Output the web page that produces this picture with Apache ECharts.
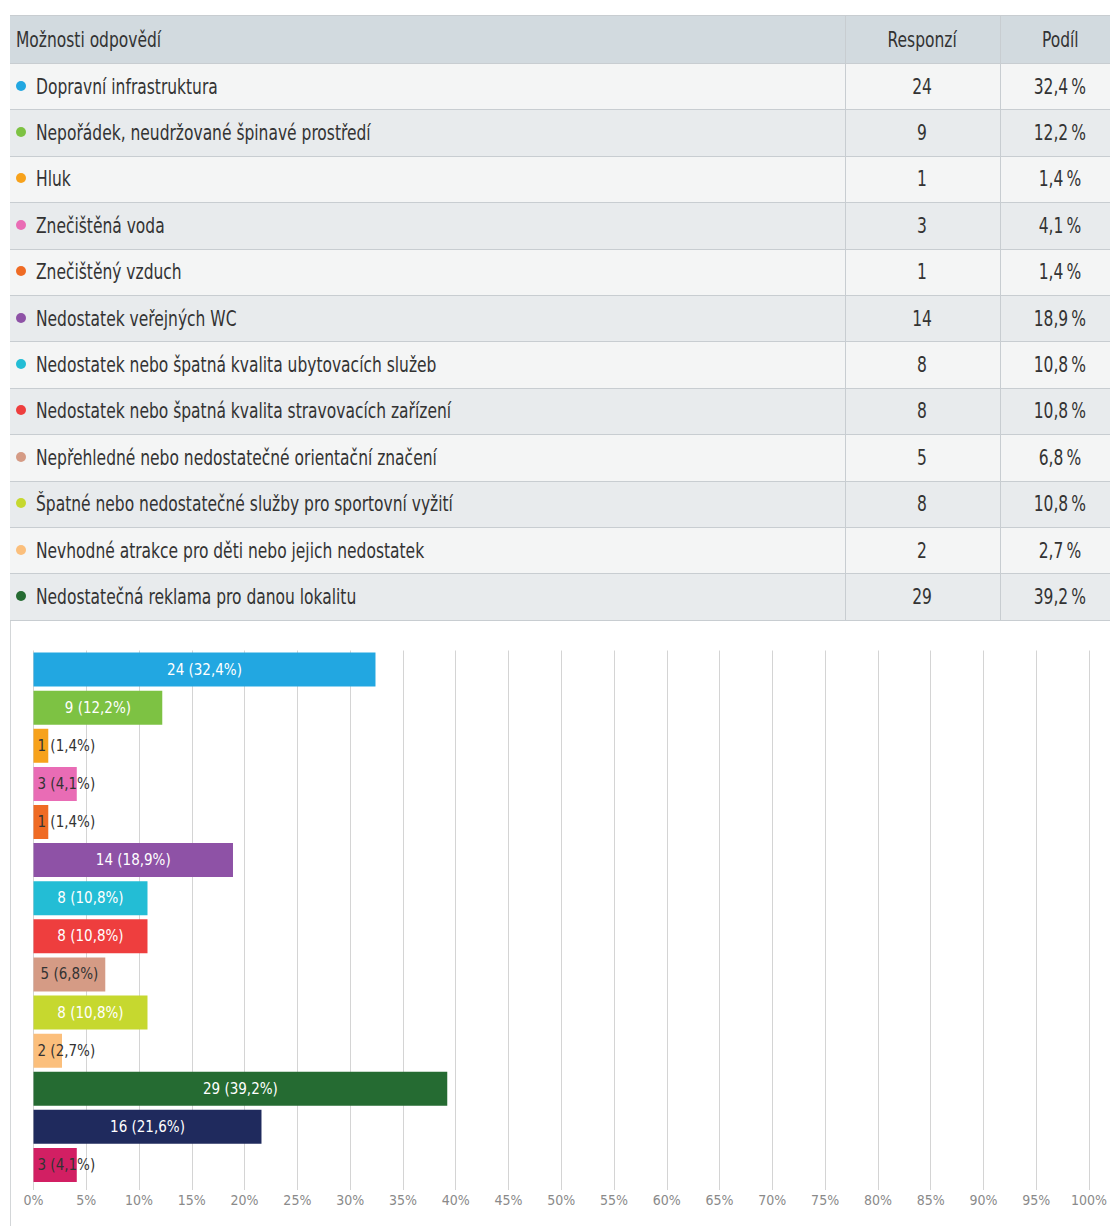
<!DOCTYPE html>
<html>
<head>
<meta charset="utf-8">
<script src="https://cdn.jsdelivr.net/npm/echarts@6/dist/echarts.min.js"></script>
<style>
  html, body { margin:0; padding:0; background:#fff; width:1110px; height:1226px; overflow:hidden; }
  body { position:relative; font-family:"DejaVu Sans Condensed","Liberation Sans Narrow","Roboto",sans-serif; color:#333; }
  #frame { position:absolute; left:10px; top:15px; width:1110px; height:1211px; border-left:1px solid #d3d6d8; }
  table { position:absolute; left:10px; top:15px; width:1110px; border-collapse:collapse; table-layout:fixed; font-size:21px; }
  th, td { border-top:1px solid #c8cdd1; border-bottom:1px solid #c8cdd1; padding:0; font-weight:normal; white-space:nowrap; overflow:visible; }
  th { background:#d2dadf; height:47px; }
  td { height:45.4px; }
  tr.l td { background:#f4f5f5; }
  tr.d td { background:#e8ebed; }
  .c1 { text-align:left; padding-left:6px; }
  .c2, .c3 { text-align:center; border-left:1px solid #c8cdd1; }
  .t { display:inline-block; transform:scaleX(0.82); transform-origin:left center; }
  .c2 .t, .c3 .t { transform-origin:center center; }
  .dot { display:inline-block; width:10px; height:10px; border-radius:50%; margin-right:10px; vertical-align:middle; position:relative; top:-2px; }
  #chart { position:absolute; left:0; top:620px; width:1110px; height:606px; }
</style>
</head>
<body>
<div id="frame"></div>
<table id="tbl">
  <colgroup><col style="width:835px"><col style="width:155px"><col style="width:120px"></colgroup>
  <thead><tr><th class="c1" id="h1"></th><th class="c2" id="h2"></th><th class="c3" id="h3"></th></tr></thead>
  <tbody id="tb"></tbody>
</table>
<div id="chart"></div>
<script>
// ---- data ----
const headers = ["Možnosti odpovědí", "Responzí", "Podíl"];
const categories = [
  "Dopravní infrastruktura",
  "Nepořádek, neudržované špinavé prostředí",
  "Hluk",
  "Znečištěná voda",
  "Znečištěný vzduch",
  "Nedostatek veřejných WC",
  "Nedostatek nebo špatná kvalita ubytovacích služeb",
  "Nedostatek nebo špatná kvalita stravovacích zařízení",
  "Nepřehledné nebo nedostatečné orientační značení",
  "Špatné nebo nedostatečné služby pro sportovní vyžití",
  "Nevhodné atrakce pro děti nebo jejich nedostatek",
  "Nedostatečná reklama pro danou lokalitu",
  "Kategorie 13",
  "Kategorie 14"
];
const counts = [24, 9, 1, 3, 1, 14, 8, 8, 5, 8, 2, 29, 16, 3];
const shares = [32.4, 12.2, 1.4, 4.1, 1.4, 18.9, 10.8, 10.8, 6.8, 10.8, 2.7, 39.2, 21.6, 4.1];
const tableRows = 12; // rows visible in the table
const xTicks = [0, 5, 10, 15, 20, 25, 30, 35, 40, 45, 50, 55, 60, 65, 70, 75, 80, 85, 90, 95, 100];

// ---- styles ----
const colors = ["#22a7e1", "#7dc243", "#f7a21b", "#e96cb5", "#ef6b24", "#8e52a6", "#23bdd5", "#ee3e3e",
                "#d59b85", "#c6d82f", "#fbbf7c", "#256b32", "#1f2a5d", "#d21f63"];
const labelColors = ["#fff", "#fff", "#333", "#333", "#333", "#fff", "#fff", "#fff", "#333", "#fff", "#333", "#fff", "#fff", "#333"];
const fmt = v => v.toFixed(1).replace('.', ',');

// ---- table ----
function txt(s) { const sp = document.createElement('span'); sp.className = 't'; sp.textContent = s; return sp; }
document.getElementById('h1').appendChild(txt(headers[0]));
document.getElementById('h2').appendChild(txt(headers[1]));
document.getElementById('h3').appendChild(txt(headers[2]));
const tb = document.getElementById('tb');
for (let i = 0; i < tableRows; i++) {
  const tr = document.createElement('tr');
  tr.className = i % 2 === 0 ? 'l' : 'd';
  const td1 = document.createElement('td'); td1.className = 'c1';
  const dot = document.createElement('span'); dot.className = 'dot'; dot.style.background = colors[i];
  td1.appendChild(dot); td1.appendChild(txt(categories[i]));
  const td2 = document.createElement('td'); td2.className = 'c2'; td2.appendChild(txt(String(counts[i])));
  const td3 = document.createElement('td'); td3.className = 'c3'; td3.appendChild(txt(fmt(shares[i]) + '\u2009%'));
  tr.appendChild(td1); tr.appendChild(td2); tr.appendChild(td3);
  tb.appendChild(tr);
}

// ---- chart ----
const labelFamily = '"DejaVu Sans Condensed","Liberation Sans Narrow",sans-serif';
const labelSize = 15;
const ctx = document.createElement('canvas').getContext('2d');
ctx.font = labelSize + 'px ' + labelFamily;
const plotWidth = 1110 - 33.5 - 18.5;
const data = shares.map((v, i) => {
  const t = counts[i] + ' (' + fmt(v) + '%)';
  const tw = ctx.measureText(t).width;
  const bw = v / 100 * plotWidth;
  const fits = tw + 6 < bw;
  return {
    value: v,
    itemStyle: { color: colors[i] },
    label: { position: fits ? 'inside' : 'insideLeft', offset: fits ? [0, 0] : [-1, 0], color: labelColors[i] }
  };
});

const chart = echarts.init(document.getElementById('chart'), null, { renderer: 'svg' });
chart.setOption({
  animation: false,
  grid: { left: 33.5, right: 18.5, top: 30.5, bottom: 42 },
  xAxis: {
    type: 'value', min: 0, max: 100, interval: 5,
    axisLine: { show: false },
    axisTick: { show: true, length: 6, lineStyle: { color: '#d4d4d4' } },
    splitLine: { show: true, lineStyle: { color: '#d4d4d4', width: 1 } },
    axisLabel: { formatter: '{value}%', color: '#8a8a8a', fontSize: 14, margin: 9,
                 fontFamily: '"DejaVu Sans Condensed","DejaVu Sans",sans-serif' }
  },
  yAxis: {
    type: 'category', data: categories, inverse: true,
    axisLine: { show: false }, axisTick: { show: false }, axisLabel: { show: false }, splitLine: { show: false }
  },
  series: [{
    type: 'bar', data: data, barWidth: 34,
    label: {
      show: true, fontSize: labelSize, fontFamily: labelFamily,
      formatter: p => counts[p.dataIndex] + ' (' + fmt(p.value) + '%)'
    }
  }]
});
</script>
</body>
</html>
